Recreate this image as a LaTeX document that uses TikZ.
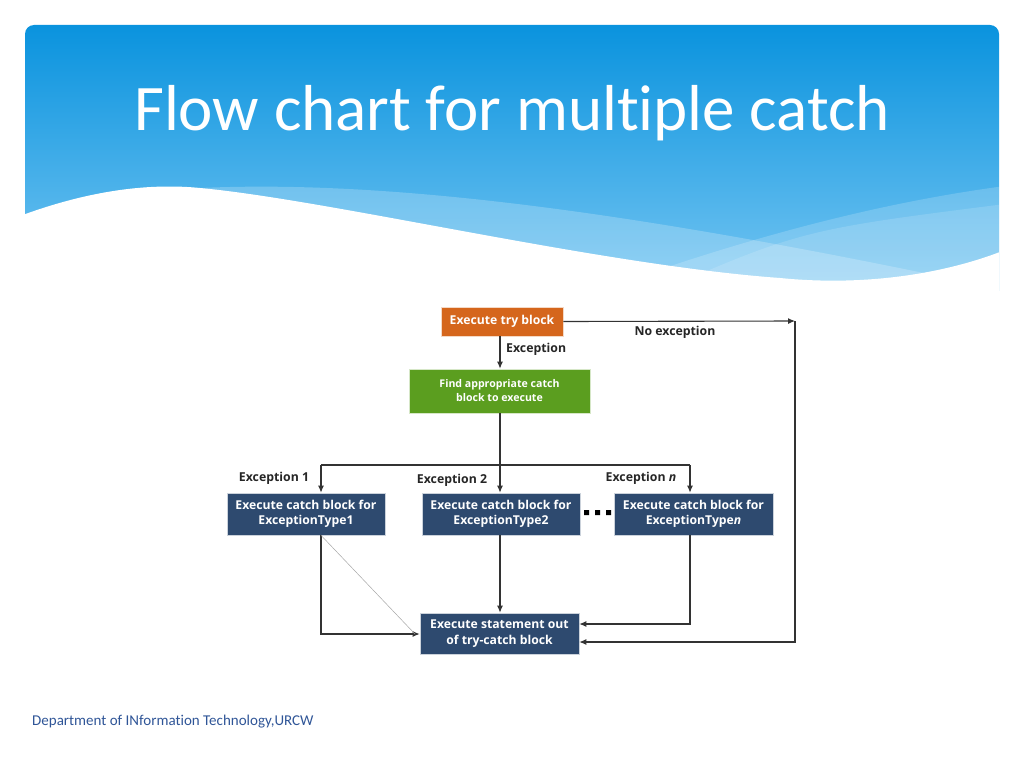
\documentclass[tikz,border=0pt]{standalone}
\usepackage{fontspec}
\setmainfont{Carlito}[Ligatures=NoCommon]
\newfontfamily\fc{Open Sans}[Ligatures=NoCommon]
\usetikzlibrary{arrows.meta}
\definecolor{tryc}{HTML}{D5661C}
\definecolor{findc}{HTML}{5B9E1F}
\definecolor{boxc}{HTML}{2E4A6F}
\definecolor{hdtop}{HTML}{0A93DE}
\definecolor{hdbot}{HTML}{74C5F2}
\definecolor{foot}{HTML}{2F5597}
\definecolor{linec}{HTML}{333333}
\begin{document}
\begin{tikzpicture}[x=1pt,y=-1pt,
  box/.style={fill=#1, draw=white!75!#1, line width=0.6pt, text=white, align=center,
     font=\fc\bfseries\fontsize{12.2}{15.5}\selectfont, inner sep=2pt},
  flow/.style={draw=linec, line width=1.1pt, -{Latex[length=7pt,width=6pt]}},
  plain/.style={draw=linec, line width=1.1pt},
  lbl/.style={font=\fc\bfseries\fontsize{12.3}{14}\selectfont, text=black!85, inner sep=0pt}]
\useasboundingbox (0,0) rectangle (1024,768);
% header
\begin{scope}
  \clip[rounded corners=9pt] (25,25) rectangle (999,300);
  \shade[top color=hdtop, bottom color=hdbot] (25,25) rectangle (999,290);
  \fill[white, opacity=0.22] (200,188) .. controls (420,178) and (700,225) .. (1005,290) -- (1005,305) -- (200,305) -- cycle;
  \fill[white, opacity=0.18] (560,305) .. controls (760,230) and (900,200) .. (1005,186) -- (1005,305) -- cycle;
  \fill[white, opacity=0.14] (640,300) .. controls (800,230) .. (1005,204) -- (1005,305) -- cycle;
  \fill[white] (20,216) .. controls (90,190) and (150,183) .. (200,188)
     .. controls (330,200) and (600,265) .. (780,278)
     .. controls (870,287) and (950,272) .. (1005,250) -- (1005,305) -- (20,305) -- cycle;
\end{scope}
\node[anchor=base west, text=white, font=\fontsize{65}{72}\selectfont, inner sep=0pt] (title) at (134,130) {Flow chart for multiple catch};
% flowchart nodes
\node[box=tryc, minimum width=122pt, minimum height=29pt] (try) at (502,321.5) {Execute try block};
\node[box=findc, minimum width=181pt, minimum height=44pt, font=\fc\bfseries\fontsize{10.6}{14}\selectfont] (find) at (499.5,391) {Find appropriate catch\\block to execute};
\node[box=boxc, minimum width=158pt, minimum height=42pt] (c1) at (306,514) {Execute catch block for\\ExceptionType1};
\node[box=boxc, minimum width=158pt, minimum height=42pt] (c2) at (501,514) {Execute catch block for\\ExceptionType2};
\node[box=boxc, minimum width=159pt, minimum height=42pt] (cn) at (693.5,514) {Execute catch block for\\ExceptionType\textit{n}};
\node[box=boxc, minimum width=159pt, minimum height=41pt] (fin) at (499.5,633.5) {Execute statement out\\of try-catch block};
% coordinates
\coordinate (ne) at (795,321);
\coordinate (se) at (795,642);
\coordinate (jn) at (500,465);
\coordinate (j1) at (321,465);
\coordinate (jr) at (690,465);
\coordinate (b1) at (321,634);
\coordinate (bn) at (690,624);
% connectors
\draw[flow] (jn |- try.south) -- (jn |- find.north);
\node[lbl, anchor=west] (lex) at (506,349) {Exception};
\draw[flow] (try.east) -- (ne);
\node[lbl] (lnoex) at (675,332) {No exception};
\draw[flow] (ne) -- (se) -- (se -| fin.east);
\draw[plain] (jn |- find.south) -- (jn);
\draw[plain] (j1) -- (jr);
\draw[flow] (j1) -- (j1 |- c1.north);
\draw[flow] (jn) -- (jn |- c2.north);
\draw[flow] (jr) -- (jr |- cn.north);
\node[lbl] (le1) at (274,478) {Exception 1};
\node[lbl] (le2) at (452,480) {Exception 2};
\node[lbl] (len) at (641,478) {Exception \textit{n}};
\fill[black] (584,510) rectangle +(5,5) (595,510) rectangle +(5,5) (606,510) rectangle +(5,5);
\draw[flow] (j1 |- c1.south) -- (b1) -- (b1 -| fin.west);
\draw[gray!70, line width=0.5pt] (j1 |- c1.south) -- (415,634);
\draw[flow] (jn |- c2.south) -- (jn |- fin.north);
\draw[flow] (jr |- cn.south) -- (bn) -- (bn -| fin.east);
% footer
\node[anchor=base west, text=foot, font=\fontsize{15}{18}\selectfont, inner sep=0pt] (foot) at (32,725) {Department of INformation Technology,URCW};
\end{tikzpicture}
\end{document}
